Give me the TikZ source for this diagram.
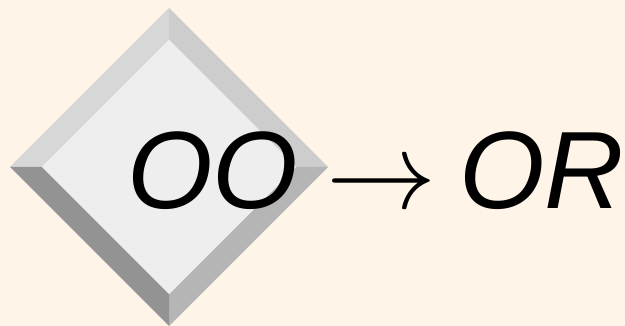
\RequirePackage{fix-cm}
\documentclass[tikz,border=0pt]{standalone}
\usepackage{fontspec}
\setsansfont{Liberation Sans}
\definecolor{bg}{HTML}{FEF4E8}
\definecolor{bevtl}{HTML}{D7D7D7}
\definecolor{bevtr}{HTML}{CDCDCD}
\definecolor{bevbl}{HTML}{939393}
\definecolor{bevbr}{HTML}{B5B5B5}
\definecolor{face}{HTML}{EEEEEE}
\tikzset{
  lbl/.style={inner sep=0pt, outer sep=0pt, anchor=base west,
    font=\fontsize{110}{120}\selectfont\sffamily\itshape},
  arrowlbl/.style={inner sep=0pt, outer sep=0pt, anchor=base west,
    font=\fontsize{110}{120}\selectfont}
}
\begin{document}
\begin{tikzpicture}[x=1pt,y=-1pt]
  \useasboundingbox (0,0) rectangle (625,326);
  \fill[bg] (0,0) rectangle (625,326);
  % diamond outer / inner corners
  \coordinate (T) at (169,8);
  \coordinate (L) at (10,167);
  \coordinate (R) at (328,167);
  \coordinate (B) at (169,326);
  \coordinate (iT) at (169,40);
  \coordinate (iL) at (42,167);
  \coordinate (iR) at (296,167);
  \coordinate (iB) at (169,294);
  \fill[bevtl] (L) -- (T) -- (iT) -- (iL) -- cycle;
  \fill[bevtr] (T) -- (R) -- (iR) -- (iT) -- cycle;
  \fill[bevbr] (R) -- (B) -- (iB) -- (iR) -- cycle;
  \fill[bevbl] (B) -- (L) -- (iL) -- (iB) -- cycle;
  \fill[face] (iT) -- (iR) -- (iB) -- (iL) -- cycle;
  \node[lbl] (oo) at (127,209) {OO};
  \node[arrowlbl] (arr) at (326,209) {$\rightarrow$};
  \node[lbl] (or) at (459,209) {OR};
\end{tikzpicture}
\end{document}
